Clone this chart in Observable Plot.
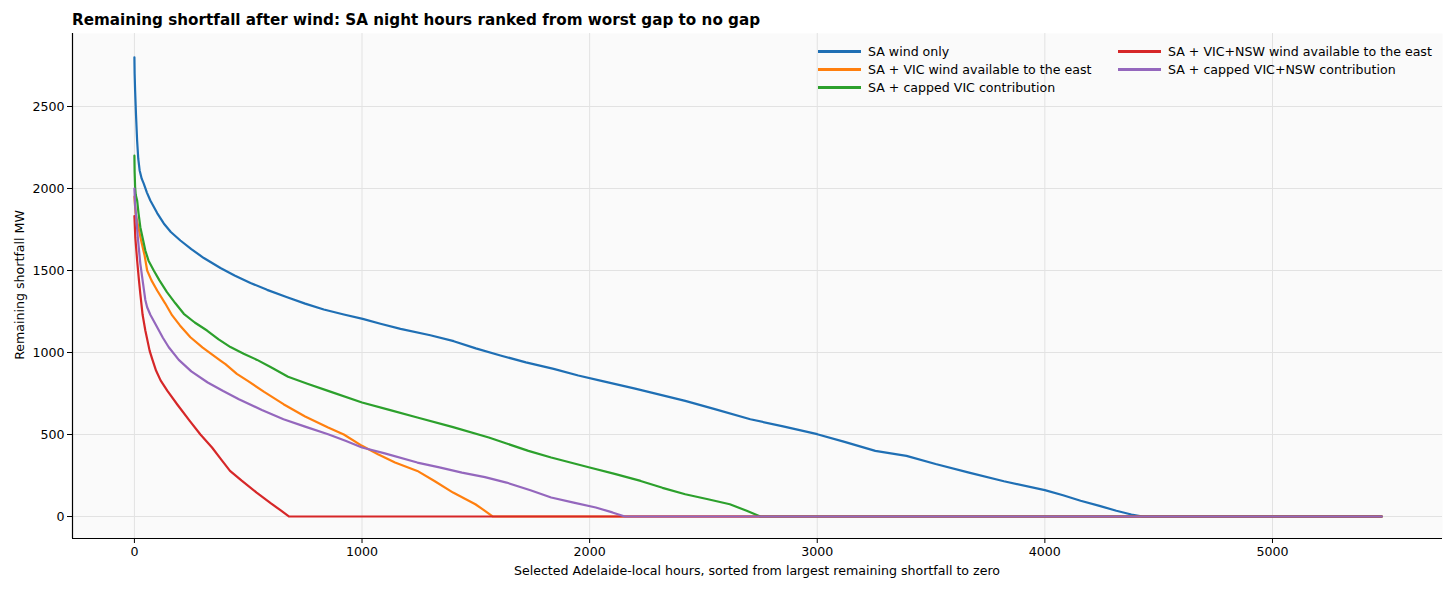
<!DOCTYPE html>
<html>
<head>
<meta charset="utf-8">
<script src="https://cdn.jsdelivr.net/npm/d3@7"></script>
<script src="https://cdn.jsdelivr.net/npm/@observablehq/plot@0.6"></script>
<style>
  html, body { margin: 0; padding: 0; background: #ffffff; }
  body { font-family: "DejaVu Sans", sans-serif; color: #000; }
  #wrap { position: relative; width: 1456px; height: 592px; }
  #title { position: absolute; left: 72px; top: 11px; font-weight: bold; font-size: 15.2px; white-space: nowrap; }
  #ylab { position: absolute; left: 19px; top: 285px; font-size: 12.6px; white-space: nowrap; transform: translate(-50%, -50%) rotate(-90deg); }
  #xlab { position: absolute; left: 757px; top: 570px; font-size: 12.6px; white-space: nowrap; transform: translate(-50%, -50%); }
  .leg { position: absolute; font-size: 12.6px; white-space: nowrap; display: flex; align-items: center; }
  .leg .sw { width: 43px; height: 3px; margin-right: 7px; }
</style>
</head>
<body>
<div id="wrap">
  <div id="chart"></div>
  <div id="title">Remaining shortfall after wind: SA night hours ranked from worst gap to no gap</div>
  <div id="ylab">Remaining shortfall MW</div>
  <div id="xlab">Selected Adelaide-local hours, sorted from largest remaining shortfall to zero</div>
  <div id="legend"></div>
</div>
<script>
const seriesNames = [
  "SA wind only",
  "SA + VIC wind available to the east",
  "SA + capped VIC contribution",
  "SA + VIC+NSW wind available to the east",
  "SA + capped VIC+NSW contribution"
];
const seriesColors = ["#1f6fb4", "#ff7f0e", "#2ca02c", "#d62728", "#9467bd"];

const xTicks = [0, 1000, 2000, 3000, 4000, 5000];
const yTicks = [0, 500, 1000, 1500, 2000, 2500];

// SA wind only
const blueHours = [0,1,3,7,12,17,23,32,41,55,70,100,129,160,202,250,305,378,440,510,583,671,750,832,920,1003,1081,1169,1300,1403,1500,1608,1720,1842,1950,2047,2200,2420,2550,2706,2850,3000,3120,3255,3392,3520,3667,3820,4000,4080,4157,4240,4314,4380,4430,5480];
const blueMW    = [2800,2700,2600,2450,2290,2180,2110,2060,2030,1975,1927,1850,1787,1735,1683,1630,1576,1515,1470,1424,1382,1337,1298,1262,1232,1205,1175,1144,1105,1069,1025,982,940,900,860,829,780,705,655,593,550,502,455,400,370,320,268,215,161,130,96,65,35,12,0,0];

// SA + VIC wind available to the east
const orangeHours = [0,5,12,19,30,45,56,75,100,135,166,200,246,300,378,400,450,498,570,655,750,851,920,1000,1070,1145,1243,1320,1400,1450,1498,1540,1575,5480];
const orangeMW    = [1950,1850,1800,1752,1680,1590,1500,1440,1378,1300,1226,1165,1093,1030,951,929,870,827,760,685,610,543,500,431,380,329,278,215,146,110,75,35,0,0];

// SA + capped VIC contribution
const greenHours = [0,1,3,6,12,18,26,36,48,62,85,110,143,180,217,265,319,370,422,480,539,600,675,760,851,1000,1120,1243,1400,1557,1635,1731,1831,2000,2110,2224,2320,2420,2520,2616,2690,2750,5480];
const greenMW    = [2200,2100,2010,1960,1927,1850,1764,1700,1622,1560,1500,1440,1368,1300,1236,1183,1134,1080,1033,993,955,910,852,810,766,695,650,604,545,482,445,400,360,299,260,217,175,136,105,75,35,0,0];

// SA + VIC+NSW wind available to the east
const redHours = [0,4,12,20,26,36,48,67,78,95,115,145,190,243,290,341,380,420,470,537,600,640,680,5480];
const redMW    = [1832,1700,1561,1440,1358,1230,1134,1010,961,890,830,766,680,583,500,421,350,278,220,146,80,40,0,0];

// SA + capped VIC+NSW contribution
const purpleHours = [0,3,8,15,26,38,48,56,70,100,125,151,195,250,322,390,459,560,655,750,851,930,1000,1100,1243,1340,1439,1540,1635,1740,1831,1930,2027,2100,2155,5480];
const purpleMW    = [2000,1900,1825,1700,1542,1420,1320,1276,1230,1154,1090,1032,955,885,817,765,715,650,593,548,502,460,421,385,329,300,268,240,207,160,116,85,55,25,0,0];

const allHours = [blueHours, orangeHours, greenHours, redHours, purpleHours];
const allMW = [blueMW, orangeMW, greenMW, redMW, purpleMW];

const rows = [];
seriesNames.forEach((name, i) => {
  allHours[i].forEach((h, j) => rows.push({series: name, h, mw: allMW[i][j]}));
});

const xDomain = [-272, 5747];
const yDomain = [-134, 2945];
const fmt = d => String(d);

const chart = Plot.plot({
  width: 1456,
  height: 592,
  marginLeft: 72,
  marginRight: 14,
  marginTop: 33,
  marginBottom: 54,
  style: {fontFamily: "DejaVu Sans, sans-serif", fontSize: "12.6px", background: "transparent", color: "#000"},
  x: {domain: xDomain, label: null},
  y: {domain: yDomain, label: null},
  color: {domain: seriesNames, range: seriesColors},
  marks: [
    Plot.frame({fill: "#fafafa", stroke: "none"}),
    Plot.gridX(xTicks, {stroke: "#e2e2e2", strokeOpacity: 1, strokeWidth: 1}),
    Plot.gridY(yTicks, {stroke: "#e2e2e2", strokeOpacity: 1, strokeWidth: 1}),
    Plot.axisX(xTicks, {tickSize: 5, tickPadding: 4, tickFormat: fmt, label: null, fontSize: 12.6}),
    Plot.axisY(yTicks, {tickSize: 5, tickPadding: 3, tickFormat: fmt, label: null, fontSize: 12.6}),
    Plot.ruleX([xDomain[0]], {stroke: "#000", strokeWidth: 1.2}),
    Plot.ruleY([yDomain[0]], {stroke: "#000", strokeWidth: 1.2}),
    Plot.line(rows, {x: "h", y: "mw", z: "series", stroke: "series", strokeWidth: 2.2, strokeLinejoin: "round"})
  ]
});
document.getElementById("chart").appendChild(chart);

// legend (column-major, two columns)
const legend = document.getElementById("legend");
const legCols = [818, 1118];
const legRows = [51, 69, 87];
seriesNames.forEach((name, i) => {
  const col = i < 3 ? 0 : 1;
  const row = i < 3 ? i : i - 3;
  const el = document.createElement("div");
  el.className = "leg";
  el.style.left = legCols[col] + "px";
  el.style.top = (legRows[row] - 8) + "px";
  el.style.height = "16px";
  const sw = document.createElement("span");
  sw.className = "sw";
  sw.style.background = seriesColors[i];
  const tx = document.createElement("span");
  tx.textContent = name;
  el.appendChild(sw);
  el.appendChild(tx);
  legend.appendChild(el);
});
</script>
</body>
</html>
